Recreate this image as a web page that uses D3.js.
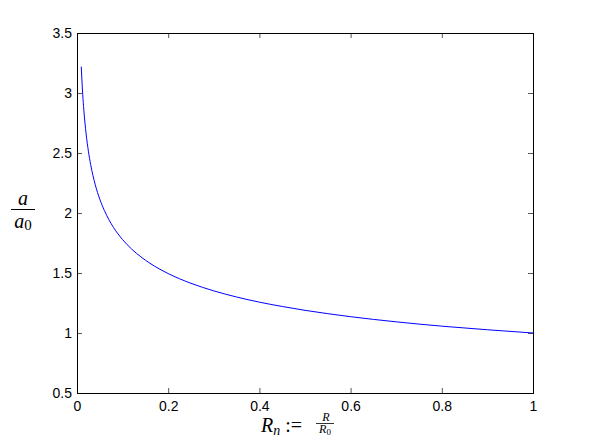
<!DOCTYPE html>
<html>
<head>
<meta charset="utf-8">
<script src="https://cdn.jsdelivr.net/npm/d3@7"></script>
<style>
  body { margin: 0; background: #fff; }
  .tick text { font-family: "Liberation Sans", Arial, sans-serif; font-size: 14px; fill: #000; }
  .tick line { stroke: #555; }
</style>
</head>
<body>
<div id="chart"></div>
<script>
var svgWidth = 589;
var svgHeight = 443;

var margin = { top: 33, right: 56, bottom: 50, left: 77 };
var width = svgWidth - margin.left - margin.right;
var height = svgHeight - margin.top - margin.bottom;

// values
var radius = [0.0093, 0.0125, 0.015, 0.02, 0.025, 0.03, 0.04, 0.05, 0.06, 0.07, 0.08,
  0.1, 0.12, 0.14, 0.16, 0.18, 0.2, 0.25, 0.3, 0.35, 0.4, 0.45, 0.5, 0.6, 0.7, 0.8, 0.9, 1.0];
var ratio = [3.22, 2.99, 2.857, 2.659, 2.515, 2.403, 2.236, 2.115, 2.021, 1.944, 1.880,
  1.778, 1.699, 1.635, 1.581, 1.535, 1.495, 1.414, 1.351, 1.300, 1.257, 1.221, 1.189, 1.136, 1.093, 1.057, 1.027, 1.000];

var xTicks = [0, 0.2, 0.4, 0.6, 0.8, 1];
var xTickLabels = ["0", "0.2", "0.4", "0.6", "0.8", "1"];
var yTicks = [0.5, 1, 1.5, 2, 2.5, 3, 3.5];
var yTickLabels = ["0.5", "1", "1.5", "2", "2.5", "3", "3.5"];

var svg = d3.select("#chart")
  .append("svg")
  .attr("width", svgWidth)
  .attr("height", svgHeight);

var chartGroup = svg.append("g")
  .attr("transform", `translate(${margin.left}, ${margin.top})`);

var xScale = d3.scaleLinear().domain([0, 1]).range([0, width]);
var yScale = d3.scaleLinear().domain([0.5, 3.5]).range([height, 0]);

// axes, ticks pointing inward like matlab
var bottomAxis = d3.axisBottom(xScale).tickValues(xTicks)
  .tickFormat((d, i) => xTickLabels[i]).tickSizeInner(-5).tickSizeOuter(0).tickPadding(8);
var leftAxis = d3.axisLeft(yScale).tickValues(yTicks)
  .tickFormat((d, i) => yTickLabels[i]).tickSizeInner(-5).tickSizeOuter(0).tickPadding(5);
var topAxis = d3.axisTop(xScale).tickValues(xTicks).tickFormat("").tickSizeInner(-5).tickSizeOuter(0);
var rightAxis = d3.axisRight(yScale).tickValues(yTicks).tickFormat("").tickSizeInner(-5).tickSizeOuter(0);

chartGroup.append("g").attr("transform", `translate(0, ${height})`).call(bottomAxis);
chartGroup.append("g").call(leftAxis);
chartGroup.append("g").call(topAxis);
chartGroup.append("g").attr("transform", `translate(${width}, 0)`).call(rightAxis);
chartGroup.selectAll(".domain").remove();

// box
chartGroup.append("rect")
  .attr("x", 0.5).attr("y", 0.5)
  .attr("width", width).attr("height", height)
  .attr("fill", "none")
  .attr("stroke", "#000")
  .attr("stroke-width", 1);

// curve
var line = d3.line()
  .x((d, i) => xScale(radius[i]))
  .y(d => yScale(d))
  .curve(d3.curveMonotoneX);

chartGroup.append("path")
  .datum(ratio)
  .attr("d", line)
  .attr("fill", "none")
  .attr("stroke", "#0000ff")
  .attr("stroke-width", 1);

// y label: a / a0
var serif = "'Liberation Serif', 'Times New Roman', serif";
var yLab = svg.append("g").attr("font-family", serif).attr("font-style", "italic");
yLab.append("text").attr("x", 23).attr("y", 205).attr("text-anchor", "middle")
  .attr("font-size", 20).text("a");
yLab.append("line").attr("x1", 11).attr("x2", 35).attr("y1", 209.5).attr("y2", 209.5)
  .attr("stroke", "#000").attr("stroke-width", 1);
var a0 = yLab.append("text").attr("x", 23).attr("y", 228).attr("text-anchor", "middle")
  .attr("font-size", 20);
a0.append("tspan").text("a");
a0.append("tspan").attr("font-style", "normal").attr("font-size", 15).attr("dy", 2).text("0");

// x label: Rn := R / R0
var xLab = svg.append("g").attr("font-family", serif);
var rn = xLab.append("text").attr("x", 261).attr("y", 432).attr("font-size", 20);
rn.append("tspan").attr("font-style", "italic").text("R");
rn.append("tspan").attr("font-style", "italic").attr("font-size", 14).attr("dy", 3).text("n");
rn.append("tspan").attr("dy", -3).attr("dx", 5).text(":=");
xLab.append("text").attr("x", 326).attr("y", 421).attr("text-anchor", "middle")
  .attr("font-size", 12).attr("font-style", "italic").text("R");
xLab.append("line").attr("x1", 316).attr("x2", 334).attr("y1", 423.5).attr("y2", 423.5)
  .attr("stroke", "#000").attr("stroke-width", 0.8);
var r0 = xLab.append("text").attr("x", 325).attr("y", 433).attr("text-anchor", "middle")
  .attr("font-size", 12);
r0.append("tspan").attr("font-style", "italic").text("R");
r0.append("tspan").attr("font-size", 9).attr("dy", 2).text("0");
</script>
</body>
</html>
